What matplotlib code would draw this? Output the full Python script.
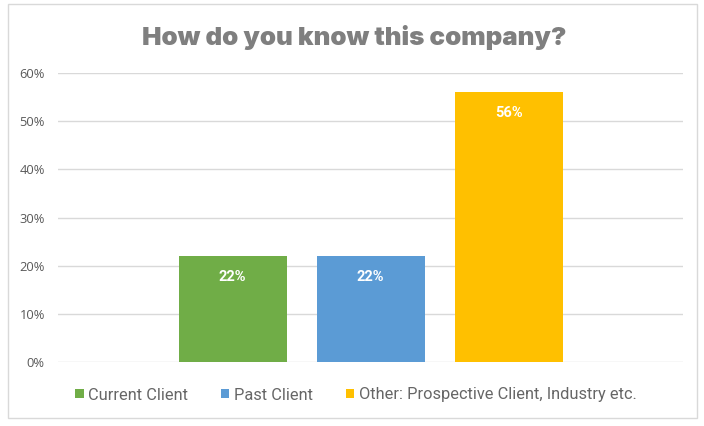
import numpy as np
import matplotlib.pyplot as plt
from matplotlib.patches import Rectangle
from matplotlib.ticker import PercentFormatter

series = ["Current Client", "Past Client", "Other: Prospective Client, Industry etc."]
shares = [0.22, 0.22, 0.56]
colors = ["#70AD47", "#5B9BD5", "#FFC000"]
yticks = [0.0, 0.1, 0.2, 0.3, 0.4, 0.5, 0.6]

fig = plt.figure(figsize=(7.04, 4.26), dpi=100)
fig.patches.append(Rectangle((0.011, 0.018), 0.979, 0.972, transform=fig.transFigure,
                             fill=False, edgecolor="#D9D9D9", linewidth=1))

ax = fig.add_axes([58 / 704, 1 - 362 / 426, 625 / 704, 289 / 426])

# excel-style clustered layout: one category, bars with a small gap between them
bar_w = 108 / 625
gap = 30 / 625
n = len(series)
group = n * bar_w + (n - 1) * gap
x0 = 0.5 - group / 2 + bar_w / 2
xs = [x0 + i * (bar_w + gap) for i in range(n)]

for x, v, c, name in zip(xs, shares, colors, series):
    ax.bar(x, v, width=bar_w, color=c, label=name, zorder=3)
    ax.annotate(f"{v:.0%}", (x, v), xytext=(0, -15), textcoords="offset points",
                ha="center", va="center", color="white", fontsize=10.5,
                fontweight="bold", family="Roboto", zorder=4)

ax.set_xlim(0, 1)
ax.set_ylim(0, 0.6)
ax.set_yticks(yticks)
ax.yaxis.set_major_formatter(PercentFormatter(1.0, decimals=0))
ax.set_xticks([])
ax.grid(axis="y", color="#D9D9D9", linewidth=1, zorder=0)
for s in ["top", "right", "left", "bottom"]:
    ax.spines[s].set_visible(False)
ax.tick_params(axis="y", length=0, pad=9.5, labelcolor="#595959", labelsize=9.3)
for lab in ax.get_yticklabels():
    lab.set_family("Open Sans")

fig.text(0.503, 1 - 38 / 426, "How do you know this company?", ha="center", va="center",
         fontsize=18.7, fontweight=900, family="Inter", color="#7F7F7F")

leg = fig.legend(loc="center", bbox_to_anchor=(0.506, 1 - 395 / 426), ncol=3, frameon=False,
                 handlelength=0.5, handleheight=0.5, handletextpad=0.3, columnspacing=2.0,
                 prop={"family": "Roboto", "size": 11.8})
for t in leg.get_texts():
    t.set_color("#666666")

fig.savefig("out.png", dpi=100)
